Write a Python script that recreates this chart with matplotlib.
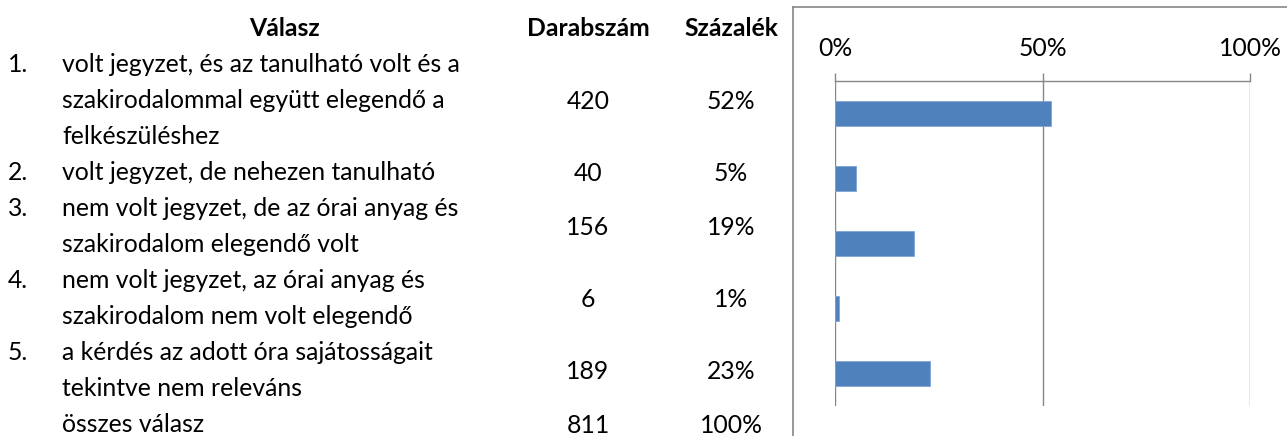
import matplotlib
matplotlib.use("Agg")
import matplotlib.pyplot as plt
from matplotlib.lines import Line2D

plt.rcParams['font.family'] = ['Lato', 'DejaVu Sans']

# table data
answers = [
    ["volt jegyzet, és az tanulható volt és a", "szakirodalommal együtt elegendő a", "felkészüléshez"],
    ["volt jegyzet, de nehezen tanulható"],
    ["nem volt jegyzet, de az órai anyag és", "szakirodalom elegendő volt"],
    ["nem volt jegyzet, az órai anyag és", "szakirodalom nem volt elegendő"],
    ["a kérdés az adott óra sajátosságait", "tekintve nem releváns"],
]
counts = [420, 40, 156, 6, 189]
percents = [52, 5, 19, 1, 23]
total_label = "összes válasz"
total_count = 811
total_percent = 100
headers = ["Válasz", "Darabszám", "Százalék"]
xticks = [0, 50, 100]

W, H = 1287, 436
FS = 17.8
BAR = '#4F81BD'
GRID = '#868686'

fig = plt.figure(figsize=(W / 100, H / 100), dpi=100)


def put(x, y, s, **kw):
    # x, y in pixels from top-left, y is the middle of capital letters
    fig.text(x / W, 1 - (y + 8.8) / H, s, fontsize=FS, va='baseline', **kw)


# headers
put(285, 27, headers[0], ha='center', fontweight='bold')
put(588, 27, headers[1], ha='center', fontweight='bold')
put(731, 27, headers[2], ha='center', fontweight='bold')

line_y = 63
step = 36
for i, lines in enumerate(answers):
    first = line_y
    put(8, line_y, f"{i + 1}.")
    for ln in lines:
        put(62, line_y, ln)
        line_y += step
    mid = (first + line_y - step) / 2
    put(588, mid + 1, str(counts[i]), ha='center')
    put(731, mid + 1, f"{percents[i]}%", ha='center')

put(62, line_y, total_label)
put(588, line_y + 1, str(total_count), ha='center')
put(731, line_y + 1, f"{total_percent}%", ha='center')

# chart frame (left and top border, rest is cut off)
fig.add_artist(Line2D([793 / W, 793 / W], [0, 1 - 7 / H], color=GRID, lw=1.2))
fig.add_artist(Line2D([793 / W, 1], [1 - 7 / H, 1 - 7 / H], color=GRID, lw=1.2))

ax = fig.add_axes([835 / W, 1 - 406 / H, (1250 - 835) / W, (406 - 81) / H])
ypos = list(range(len(percents)))
ax.barh(ypos, percents, height=0.385, color=BAR, edgecolor='#7FA4D3', linewidth=0.6, zorder=3)
ax.set_xlim(0, 100)
ax.set_ylim(len(percents) - 0.5, -0.5)
ax.set_yticks([])
ax.set_xticks(xticks)
ax.set_xticklabels([f"{t}%" for t in xticks])
ax.xaxis.tick_top()
ax.tick_params(axis='x', length=6, width=1, color=GRID, labelsize=FS, pad=9)
ax.grid(axis='x', color=GRID, lw=1, zorder=1)
for side in ['left', 'right', 'bottom']:
    ax.spines[side].set_visible(False)
ax.spines['top'].set_color(GRID)
ax.spines['top'].set_linewidth(1)
ax.patch.set_alpha(0)

fig.savefig("out.png", dpi=100)
